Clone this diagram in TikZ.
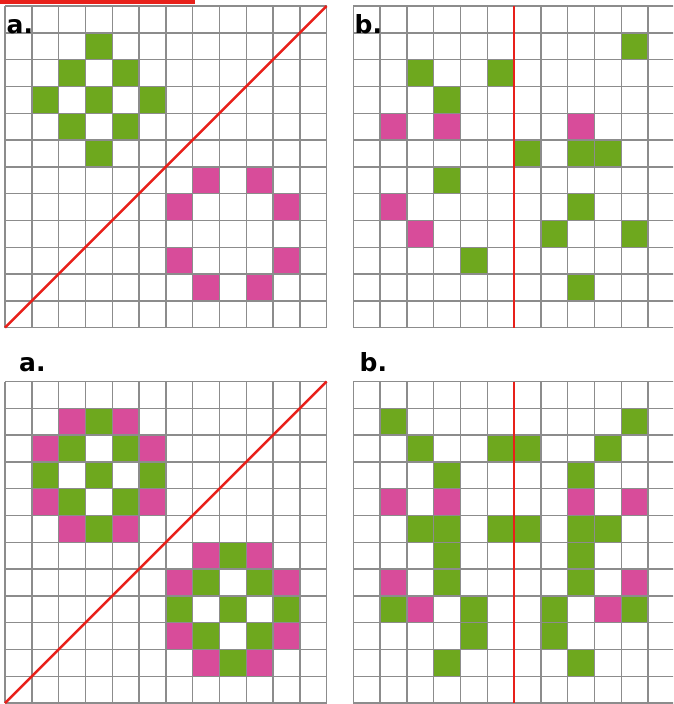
\documentclass[tikz,border=0pt]{standalone}
\usepackage{fontspec}
\setsansfont{DejaVu Sans}
\definecolor{cellgreen}{HTML}{6EA81E}
\definecolor{cellpink}{HTML}{D84C9A}
\definecolor{gridgray}{HTML}{8C8C8C}
\definecolor{axisred}{HTML}{E8201A}
\tikzset{
  gridline/.style={draw=gridgray, line width=1.4pt},
  gcell/.style={fill=cellgreen},
  pcell/.style={fill=cellpink},
  axis/.style={draw=axisred, line width=2.4pt},
  panellabel/.style={font=\sffamily\bfseries\fontsize{25}{25}\selectfont, inner sep=0pt, anchor=base west},
}
\newcommand{\cellgrid}{%
  \foreach \k in {0,...,12} {
    \draw[gridline] (\k,0) -- (\k,12);
    \draw[gridline] (0,\k) -- (12,\k);
  }%
}
\begin{document}
\begin{tikzpicture}[x=1pt,y=-1pt]
\useasboundingbox (0,0) rectangle (673,704);
\begin{scope}
\clip (0,0) rectangle (673,704);
% red bar at top edge
\fill[axisred] (0,0) rectangle (195,4);

% top-left grid
\begin{scope}[shift={(5pt,-6pt)}, x=26.8pt, y=-26.8pt]
  \foreach \c/\r in {3/1,2/2,4/2,1/3,3/3,5/3,2/4,4/4,3/5}
    \fill[gcell] (\c,\r) rectangle ++(1,1);
  \foreach \c/\r in {7/6,9/6,6/7,10/7,6/9,10/9,7/10,9/10}
    \fill[pcell] (\c,\r) rectangle ++(1,1);
  \cellgrid
  \coordinate (tlA) at (0,12);
  \coordinate (tlB) at (12,0);
  \draw[axis] (tlA) -- (tlB);
\end{scope}

% top-right grid
\begin{scope}[shift={(353.3pt,-6pt)}, x=26.8pt, y=-26.8pt]
  \foreach \c/\r in {10/1,2/2,5/2,3/3,6/5,8/5,9/5,3/6,8/7,7/8,10/8,4/9,8/10}
    \fill[gcell] (\c,\r) rectangle ++(1,1);
  \foreach \c/\r in {1/4,3/4,8/4,1/7,2/8}
    \fill[pcell] (\c,\r) rectangle ++(1,1);
  \cellgrid
  \coordinate (trA) at (6,0);
  \coordinate (trB) at (6,12);
  \draw[axis] (trA) -- (trB);
\end{scope}

% bottom-left grid
\begin{scope}[shift={(5pt,-381.5pt)}, x=26.8pt, y=-26.8pt]
  \foreach \c/\r in {2/1,4/1,1/2,5/2,1/4,5/4,2/5,4/5,7/6,9/6,6/7,10/7,6/9,10/9,7/10,9/10}
    \fill[pcell] (\c,\r) rectangle ++(1,1);
  \foreach \c/\r in {3/1,2/2,4/2,1/3,3/3,5/3,2/4,4/4,3/5,8/6,7/7,9/7,6/8,8/8,10/8,7/9,9/9,8/10}
    \fill[gcell] (\c,\r) rectangle ++(1,1);
  \cellgrid
  \coordinate (blA) at (0,12);
  \coordinate (blB) at (12,0);
  \draw[axis] (blA) -- (blB);
\end{scope}

% bottom-right grid
\begin{scope}[shift={(353.3pt,-381.5pt)}, x=26.8pt, y=-26.8pt]
  \foreach \c/\r in {1/1,10/1,2/2,5/2,6/2,9/2,3/3,8/3,2/5,3/5,5/5,6/5,8/5,9/5,3/6,8/6,3/7,8/7,1/8,4/8,7/8,10/8,4/9,7/9,3/10,8/10}
    \fill[gcell] (\c,\r) rectangle ++(1,1);
  \foreach \c/\r in {1/4,3/4,8/4,10/4,1/7,10/7,2/8,9/8}
    \fill[pcell] (\c,\r) rectangle ++(1,1);
  \cellgrid
  \coordinate (brA) at (6,0);
  \coordinate (brB) at (6,12);
  \draw[axis] (brA) -- (brB);
\end{scope}
\end{scope}

% panel labels
\node[panellabel] (labTL) at (6.5,33) {a.};
\node[panellabel] (labTR) at (354.5,33) {b.};
\node[panellabel] (labBL) at (19,371) {a.};
\node[panellabel] (labBR) at (359.5,371) {b.};
\end{tikzpicture}
\end{document}
